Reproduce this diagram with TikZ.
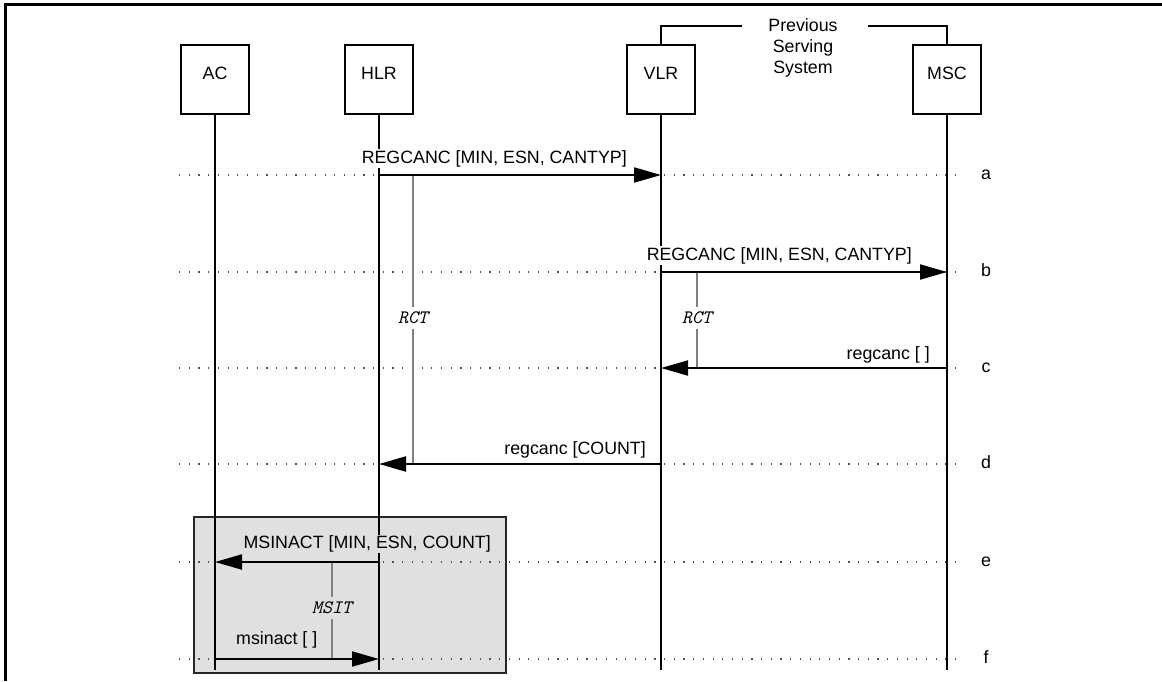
\documentclass[tikz,border=0pt]{standalone}
\usepackage{fontspec}
\setmainfont{Liberation Sans}
\usetikzlibrary{arrows.meta}
\definecolor{boxgray}{HTML}{E0E0E0}
\definecolor{timergray}{HTML}{808080}
\definecolor{dotgray}{HTML}{505050}
\begin{document}
\begin{tikzpicture}[x=1pt,y=-1pt,
  basefont/.style={font=\fontsize{17.8}{21}\selectfont},
  actor/.style={basefont, draw, line width=2pt, minimum width=68pt, minimum height=69pt, text height=8pt, text depth=8pt, inner sep=0pt},
  life/.style={line width=2pt},
  msg/.style={line width=2pt, -{Triangle[length=27pt,width=15pt]}},
  dotline/.style={line width=1.2pt, dotgray, dash pattern=on 1.2pt off 8.5pt},
  lbl/.style={basefont, fill=white, inner sep=1pt},
  glbl/.style={lbl, fill=boxgray},
  timer/.style={line width=2pt, timergray},
  tlbl/.style={font=\fontsize{19}{22}\selectfont\ttfamily\itshape, fill=white, inner xsep=1pt, inner ysep=5pt},
  gtlbl/.style={tlbl, fill=boxgray},
  rowlbl/.style={basefont, inner sep=0pt, anchor=base},
  grpbox/.style={draw=black!85, line width=1.5pt, fill=boxgray, inner sep=0pt},
  frameline/.style={line width=2.5pt},
  bracket/.style={line width=2pt}
]
\useasboundingbox (0,0) rectangle (1162,681);

% frame
\coordinate (fbl) at (5.3,681);
\coordinate (ftl) at (5.3,4.5);
\coordinate (ftr) at (1162,4.5);
\draw[frameline] (fbl) -- (ftl) -- (ftr);

% group box
\node[grpbox, minimum width=312pt, minimum height=156pt] (grp) at (350,595) {};

% rows
\coordinate (ra) at (0,175);
\coordinate (rb) at (0,272);
\coordinate (rc) at (0,368);
\coordinate (rd) at (0,464);
\coordinate (re) at (0,562);
\coordinate (rf) at (0,659);
\coordinate (bot) at (0,670);
\coordinate (dl) at (179,0);
\coordinate (dr) at (962,0);

\foreach \r in {ra,rb,rc,rd,re,rf}{
  \draw[dotline] (dl |- \r) -- (dr |- \r);
}

% row letters
\node[rowlbl] (la) at (986,179.5) {a};
\node[rowlbl] (lb) at (986,276.5) {b};
\node[rowlbl] (lc) at (986,372.5) {c};
\node[rowlbl] (ld) at (986,468.5) {d};
\node[rowlbl] (le) at (986,566.5) {e};
\node[rowlbl] (lf) at (986,663.5) {f};

% actors
\node[actor] (ac)  at (215,79.5) {AC};
\node[actor] (hlr) at (379,79.5) {HLR};
\node[actor] (vlr) at (661,79.5) {VLR};
\node[actor] (msc) at (947,79.5) {MSC};

% previous serving system bracket
\node[basefont, align=center, inner sep=0pt] (pss) at (803,48.3) {Previous\\Serving\\System};
\coordinate (bkl) at (742,26);
\coordinate (bkr) at (868,26);
\draw[bracket] (vlr.north) -- (vlr.north |- bkl) -- (bkl);
\draw[bracket] (bkr) -- (msc.north |- bkr) -- (msc.north);

% lifelines
\foreach \a in {ac,hlr,vlr,msc}{
  \draw[life] (\a.south) -- (\a.south |- bot);
}

% timers
\coordinate (t1s) at (413,175);
\coordinate (t1e) at (413,464);
\coordinate (t2s) at (697,272);
\coordinate (t2e) at (697,368);
\coordinate (t3s) at (332,562);
\coordinate (t3e) at (332,659);
\draw[timer] (t1s) -- (t1e);
\draw[timer] (t2s) -- (t2e);
\draw[timer] (t3s) -- (t3e);
\node[tlbl] (rct1) at (413,318) {RCT};
\node[tlbl] (rct2) at (697,318) {RCT};
\node[gtlbl] (msit) at (332,608) {MSIT};

% messages
\draw[msg] (hlr |- ra) -- (vlr |- ra);
\draw[msg] (vlr |- rb) -- (msc |- rb);
\draw[msg] (msc |- rc) -- (vlr |- rc);
\draw[msg] (vlr |- rd) -- (hlr |- rd);
\draw[msg] (hlr |- re) -- (ac |- re);
\draw[msg] (ac |- rf) -- (hlr |- rf);

% message labels
\node[lbl, anchor=base east] (ma) at (628,163) {REGCANC [MIN, ESN, CANTYP]};
\node[lbl, anchor=base east] (mb) at (913,260) {REGCANC [MIN, ESN, CANTYP]};
\node[lbl, anchor=base east] (mc) at (931,359) {regcanc [ ]};
\node[lbl, anchor=base east] (md) at (647,454.5) {regcanc [COUNT]};
\node[glbl, anchor=base east] (me) at (492,548.5) {MSINACT [MIN, ESN, COUNT]};
\node[glbl, anchor=base west] (mf) at (235,644) {msinact [ ]};
\end{tikzpicture}
\end{document}
